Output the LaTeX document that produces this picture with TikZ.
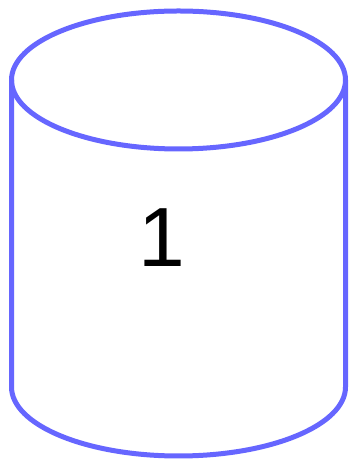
\documentclass[tikz,border=0pt]{standalone}
\usepackage{fontspec}
\setmainfont{Liberation Sans}
\definecolor{cylblue}{HTML}{6666FF}
\begin{document}
\begin{tikzpicture}[x=1pt,y=1pt,
  cylline/.style={draw=cylblue,line width=5pt,line join=round,line cap=round}]
\useasboundingbox (0,0) rectangle (350,462);
% body: sides and bottom arc
\path[cylline,fill=white] (11.5,382) -- (11.5,75) arc[start angle=180,end angle=360,x radius=167,y radius=69] -- (345.5,382);
% top ellipse
\draw[cylline] (178.5,382) ellipse[x radius=167,y radius=69];
\node[font=\fontsize{84}{84}\selectfont,anchor=base,inner sep=0pt] (lbl) at (162,195) {1};
\end{tikzpicture}
\end{document}
